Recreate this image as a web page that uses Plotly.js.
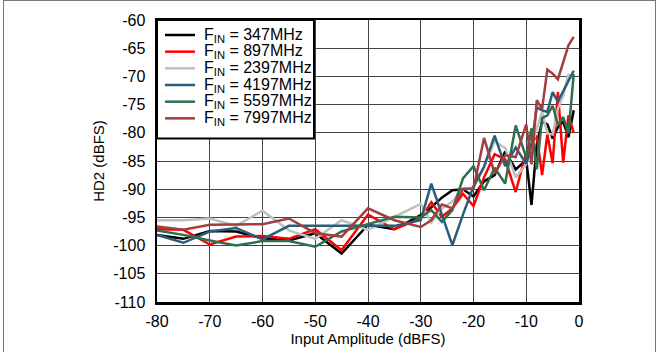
<!DOCTYPE html>
<html>
<head>
<meta charset="utf-8">
<script src="https://cdn.plot.ly/plotly-3.0.1.min.js"></script>
<style>
  html, body { margin: 0; padding: 0; background: #fff; }
  #wrap { position: relative; width: 662px; height: 352px; overflow: hidden; }
  #chart { position: absolute; left: 0; top: 0; width: 662px; height: 352px; }
  #frame { position: absolute; left: 3px; top: 0px; width: 651px; height: 360px; border: 1px solid #777; pointer-events: none; }
</style>
</head>
<body>
<div id="wrap">
  <div id="chart"></div>
  <div id="frame"></div>
</div>
<script>
// Input amplitude (dBFS)
const amplitude = [-80,-75,-70,-65,-60,-55,-50,-45,-40,-35,-30,-28,-26,-24,-22,-20,-18,-16,-14,-12,-10,-9,-8,-7,-6,-5,-4,-3,-2,-1];

// HD2 (dBFS) per input frequency
const hd2_347 = [-98.1,-98.8,-97.4,-97.5,-98.7,-99.1,-97.8,-101.4,-96.3,-97.1,-94.6,-93.2,-91.5,-90.2,-90.0,-91.3,-88.6,-87.5,-83.3,-86.5,-84.8,-92.8,-82.0,-78.0,-78.5,-81.0,-79.0,-78.0,-80.8,-76.0];
const hd2_897 = [-97.1,-97.2,-99.8,-98.4,-98.3,-98.8,-97.1,-100.8,-94.5,-97.1,-95.2,-92.3,-94.9,-93.4,-90.8,-93.0,-87.9,-83.8,-84.7,-90.5,-83.5,-82.0,-80.5,-87.5,-80.3,-85.4,-72.8,-85.3,-76.9,-80.0];
const hd2_2397 = [-95.5,-95.5,-95.2,-96.5,-93.8,-97.3,-98.8,-95.5,-97.2,-94.9,-92.6,-95.9,-93.4,-92.2,-90.0,-89.7,-86.2,-81.5,-82.7,-87.9,-85.6,-82.7,-79.2,-76.3,-80.1,-80.3,-75.7,-73.4,-69.6,-70.5];
const hd2_4197 = [-98.1,-99.5,-97.5,-96.9,-98.9,-96.5,-96.5,-96.5,-96.5,-96.5,-95.5,-89.0,-94.5,-99.9,-94.5,-89.5,-86.0,-80.5,-85.9,-82.6,-85.5,-82.0,-75.5,-76.0,-76.3,-72.8,-74.5,-72.5,-70.8,-69.0];
const hd2_5597 = [-97.3,-98.1,-99.1,-100.0,-99.2,-99.2,-100.2,-97.5,-96.2,-94.9,-95.0,-93.7,-95.8,-93.7,-88.1,-85.9,-90.2,-86.2,-89.0,-78.7,-84.4,-79.2,-86.5,-77.4,-76.9,-75.2,-78.6,-77.2,-80.1,-69.6];
const hd2_7997 = [-96.6,-97.2,-96.3,-96.3,-96.2,-95.2,-97.8,-98.4,-93.4,-95.5,-96.7,-95.5,-92.7,-93.4,-89.9,-89.9,-80.9,-87.2,-84.0,-84.3,-78.5,-85.6,-74.2,-75.8,-68.8,-69.5,-70.5,-67.5,-64.5,-63.0];

const seriesNames = ["F<sub>IN</sub> = 347MHz","F<sub>IN</sub> = 897MHz","F<sub>IN</sub> = 2397MHz","F<sub>IN</sub> = 4197MHz","F<sub>IN</sub> = 5597MHz","F<sub>IN</sub> = 7997MHz"];
const seriesValues = [hd2_347, hd2_897, hd2_2397, hd2_4197, hd2_5597, hd2_7997];
const seriesColors = ["#000000","#ff0000","#c0c0c0","#2b5d7a","#2f6f4c","#a23e3e"];

const xTicks = [-80,-70,-60,-50,-40,-30,-20,-10,0];
const yTicks = [-60,-65,-70,-75,-80,-85,-90,-95,-100,-105,-110];

const traces = seriesValues.map((v, i) => ({
  type: "scatter",
  mode: "lines",
  x: amplitude,
  y: v,
  name: seriesNames[i],
  line: { color: seriesColors[i], width: 2.5 },
  showlegend: false
}));

const fam = "Liberation Sans, Arial, sans-serif";
const tickFont = { family: fam, size: 16, color: "#000" };
const titleFont = { family: fam, size: 15, color: "#000" };

// Compact legend (box, key lines and labels) placed in the plot's top-left corner
const legX0 = 0.0, legX1 = 0.372, legY0 = 0.58, legY1 = 1.0;
const rowTop = 0.9468, rowStep = 0.0591;
const shapes = [{
  type: "rect", xref: "paper", yref: "paper",
  x0: legX0, x1: legX1, y0: legY0, y1: legY1,
  fillcolor: "#fff", line: { color: "#000", width: 2 }, layer: "above"
}];
const annotations = [];
seriesNames.forEach((name, i) => {
  const yy = rowTop - i * rowStep;
  shapes.push({
    type: "line", xref: "paper", yref: "paper",
    x0: 0.019, x1: 0.090, y0: yy, y1: yy,
    line: { color: seriesColors[i], width: 2.5 }, layer: "above"
  });
  annotations.push({
    xref: "paper", yref: "paper", x: 0.1066, y: yy,
    xanchor: "left", yanchor: "middle", showarrow: false,
    text: name, font: { family: fam, size: 16, color: "#000" }
  });
});

const layout = {
  width: 662,
  height: 352,
  margin: { l: 157, r: 83, t: 20, b: 50 },
  paper_bgcolor: "#fff",
  plot_bgcolor: "#fff",
  font: tickFont,
  showlegend: false,
  shapes: shapes,
  annotations: annotations,
  xaxis: {
    range: [-80, 0],
    tickvals: xTicks,
    ticktext: xTicks.map(String),
    showgrid: true, gridcolor: "#444", gridwidth: 1,
    zeroline: false,
    showline: true, linecolor: "#000", linewidth: 2.5, mirror: true,
    ticks: "", ticklen: 0,
    ticklabelstandoff: 3,
    tickfont: tickFont,
    title: { text: "Input Amplitude (dBFS)", font: titleFont, standoff: 3 }
  },
  yaxis: {
    range: [-110, -60],
    tickvals: yTicks,
    ticktext: yTicks.map(String),
    showgrid: true, gridcolor: "#444", gridwidth: 1,
    zeroline: false,
    showline: true, linecolor: "#000", linewidth: 2.5, mirror: true,
    ticks: "", ticklen: 0,
    ticklabelstandoff: 6,
    tickfont: tickFont,
    title: { text: "HD2 (dBFS)", font: titleFont, standoff: 5 }
  }
};

Plotly.newPlot("chart", traces, layout, { displayModeBar: false, staticPlot: true });
</script>
</body>
</html>
